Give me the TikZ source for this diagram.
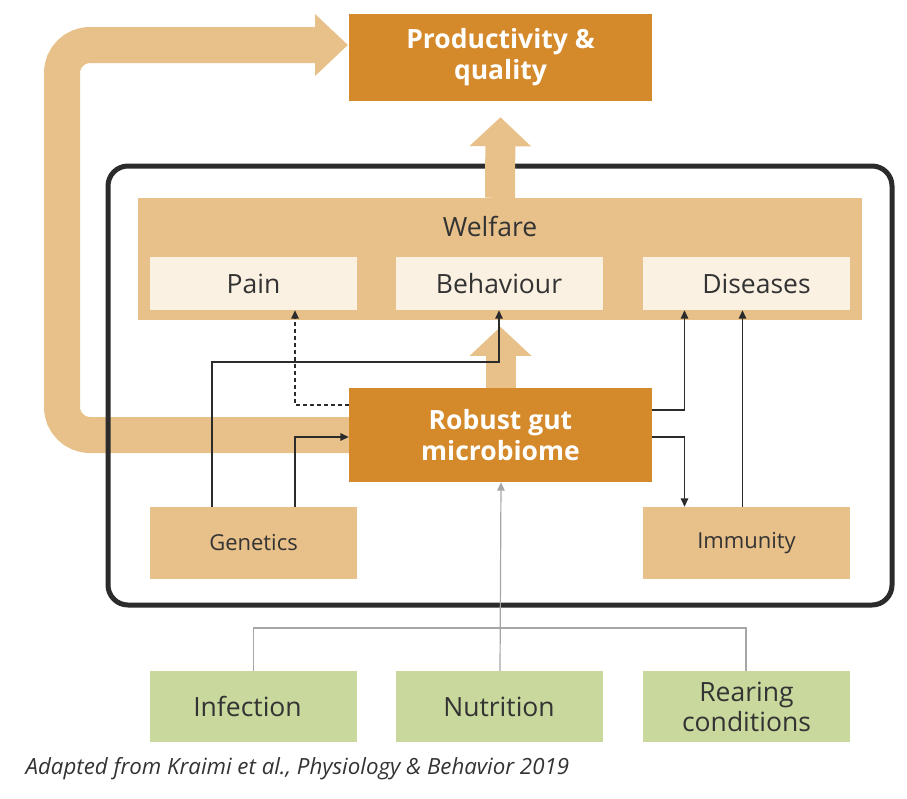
\documentclass[tikz,border=0pt]{standalone}
\usepackage{fontspec}
\setmainfont{Open Sans}
\usetikzlibrary{arrows.meta}

\definecolor{rust}{HTML}{D4892A}
\definecolor{tan}{HTML}{E8C18A}
\definecolor{cream}{HTML}{FBF1E3}
\definecolor{sage}{HTML}{C9D89D}
\definecolor{ink}{HTML}{333333}
\definecolor{frame}{HTML}{2B2B2B}

\begin{document}
\begin{tikzpicture}[x=1pt,y=-1pt,>={Triangle[width=7.5pt,length=8.5pt]},
   box/.style={inner sep=0pt,align=center,text=ink,font=\fontsize{26.5}{30}\selectfont},
   mainbox/.style={box,fill=rust,text=white,font=\bfseries\fontsize{26.5}{31}\selectfont,
                   minimum width=303pt},
   subbox/.style={box,fill=cream,minimum width=207pt,minimum height=53pt},
   factor/.style={box,fill=tan,minimum width=207pt,minimum height=72pt,
                  font=\fontsize{22}{26}\selectfont},
   input/.style={box,fill=sage,minimum width=207pt,minimum height=71pt},
   link/.style={->,line width=1.5pt,draw=frame},
   feed/.style={->,line width=1.2pt,draw=gray!70},
   fat/.style={line width=30pt,draw=tan,-{Triangle[width=60pt,length=29pt]}}]
   \useasboundingbox (0,0) rectangle (907,798);

   % loop band behind everything
   \draw[line width=36pt,draw=tan,rounded corners=28pt,
         -{Triangle[width=60pt,length=33pt]}]
        (420,435) -- (62,435) -- (62,45) -- (348,45);

   % outer frame
   \draw[line width=5pt,draw=frame,rounded corners=20pt] (108,166) rectangle (892,605);

   \node[mainbox,minimum height=87pt] (prod)  at (500.5,57.5) {Productivity \&\\quality};

   \node[box,fill=tan,minimum width=724pt,minimum height=122pt] (welfare) at (500,259) {};
   \node[box] (wtitle) at (490,226) {Welfare};
   \node[subbox] (pain)  at (253.5,283.5) {Pain};
   \node[subbox] (behav) at (499,283.5)   {Behaviour};
   \node[subbox] (dis)   at (746.5,283.5) {\hspace*{20pt}Diseases};

   \node[mainbox,minimum height=94pt] (micro) at (500.5,435) {Robust gut\\microbiome};

   \node[factor] (gen) at (253.5,543) {Genetics};
   \node[factor] (imm) at (746.5,543) {Immunity};

   \node[input] (inf)  at (253.5,706.5) {Infection\hspace*{12pt}};
   \node[input] (nut)  at (499,706.5)   {Nutrition};
   \node[input] (rear) at (746.5,706.5) {Rearing\\conditions};

   \node[anchor=west,text=ink,font=\itshape\fontsize{22.3}{26}\selectfont] (src) at (22,769)
        {Adapted from Kraimi et al., Physiology \& Behavior 2019};

   % broad arrows
   \draw[fat] (welfare.north) -- ([yshift=-16pt]prod.south);
   \draw[fat] (micro.north) -- ++(0,-61);

   % thin connectors
   \draw[link] ([xshift=-41.5pt]gen.north) |- (362,362) -| (behav.south);
   \draw[link] ([xshift=41.5pt]gen.north) |- ([yshift=-2pt]micro.west);
   \draw[link,dash pattern=on 4pt off 3pt] ([yshift=30pt]micro.west) -| ([xshift=41.5pt]pain.south);
   \draw[link] ([yshift=25pt]micro.east) -| ([xshift=-62pt]dis.south);
   \draw[link] ([yshift=-2pt]micro.east) -| ([xshift=-62pt]imm.north);
   \draw[link] ([xshift=-4pt]imm.north) -- ([xshift=-4pt]dis.south);

   % inputs
   \draw[feed] ([xshift=1pt]nut.north) -- ([xshift=0.5pt]micro.south);
   \draw[draw=gray!70,line width=1.2pt] (inf.north) |- (500,628) -| ([xshift=-0.5pt]rear.north);
\end{tikzpicture}
\end{document}
